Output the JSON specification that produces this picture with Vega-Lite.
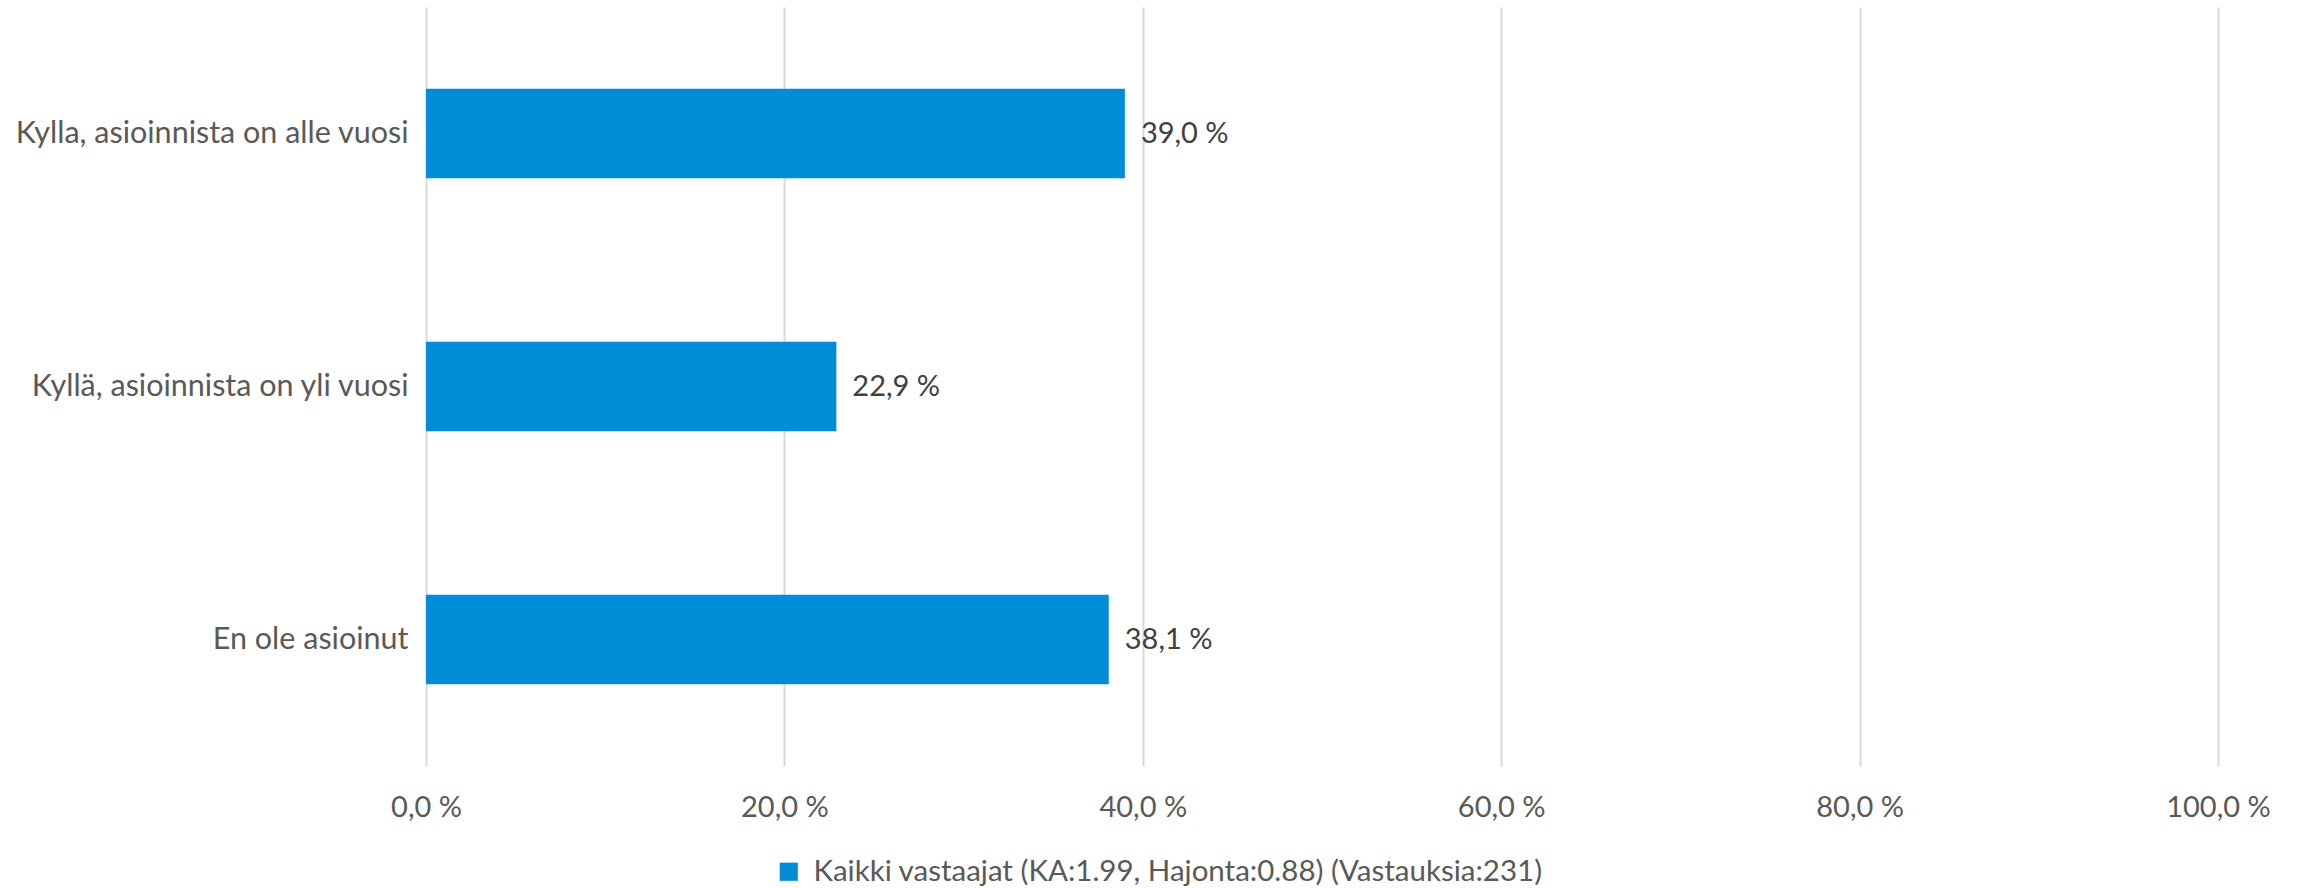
{
  "$schema": "https://vega.github.io/schema/vega-lite/v6.json",
  "width": 1792,
  "height": 759,
  "autosize": {"type": "none"},
  "padding": {"left": 426, "top": 7, "right": 82, "bottom": 122},
  "background": "white",
  "data": {
    "values": [
      {"category": "Kylla, asioinnista on alle vuosi", "value": 39.0, "series": "Kaikki vastaajat (KA:1.99, Hajonta:0.88) (Vastauksia:231)"},
      {"category": "Kyllä, asioinnista on yli vuosi", "value": 22.9, "series": "Kaikki vastaajat (KA:1.99, Hajonta:0.88) (Vastauksia:231)"},
      {"category": "En ole asioinut", "value": 38.1, "series": "Kaikki vastaajat (KA:1.99, Hajonta:0.88) (Vastauksia:231)"}
    ]
  },
  "transform": [
    {"calculate": "replace(format(datum.value, '.1f'), '.', ',') + ' %'", "as": "label"}
  ],
  "encoding": {
    "y": {
      "field": "category",
      "type": "nominal",
      "sort": null,
      "title": null,
      "scale": {"paddingInner": 0.646, "paddingOuter": 0.323},
      "axis": {
        "domain": false,
        "ticks": false,
        "grid": false,
        "labelFont": "Lato",
        "labelFontSize": 30.5,
        "labelColor": "#595959",
        "labelPadding": 18,
        "labelLimit": 600
      }
    },
    "x": {
      "field": "value",
      "type": "quantitative",
      "title": null,
      "scale": {"domain": [0, 100], "nice": false},
      "axis": {
        "values": [0, 20, 40, 60, 80, 100],
        "domain": false,
        "ticks": false,
        "grid": true,
        "gridColor": "#D9D9D9",
        "gridWidth": 2,
        "labelFlush": false,
        "labelFont": "Lato",
        "labelFontSize": 29,
        "labelColor": "#595959",
        "labelPadding": 27,
        "labelExpr": "replace(format(datum.value, '.1f'), '.', ',') + ' %'"
      }
    }
  },
  "layer": [
    {
      "mark": {"type": "bar"},
      "encoding": {
        "color": {
          "field": "series",
          "type": "nominal",
          "scale": {"range": ["#008CD6"]},
          "legend": {
            "title": null,
            "orient": "none",
            "legendX": 348,
            "legendY": 850,
            "symbolType": "square",
            "symbolSize": 330,
            "symbolStrokeWidth": 0,
            "labelFont": "Lato",
            "labelFontSize": 29.5,
            "labelColor": "#595959",
            "labelLimit": 1200,
            "labelOffset": 10
          }
        }
      }
    },
    {
      "mark": {"type": "text", "align": "left", "baseline": "middle", "dx": 16, "font": "Lato", "fontSize": 29, "color": "#404040"},
      "encoding": {"text": {"field": "label"}}
    }
  ],
  "config": {
    "view": {"stroke": null}
  }
}
